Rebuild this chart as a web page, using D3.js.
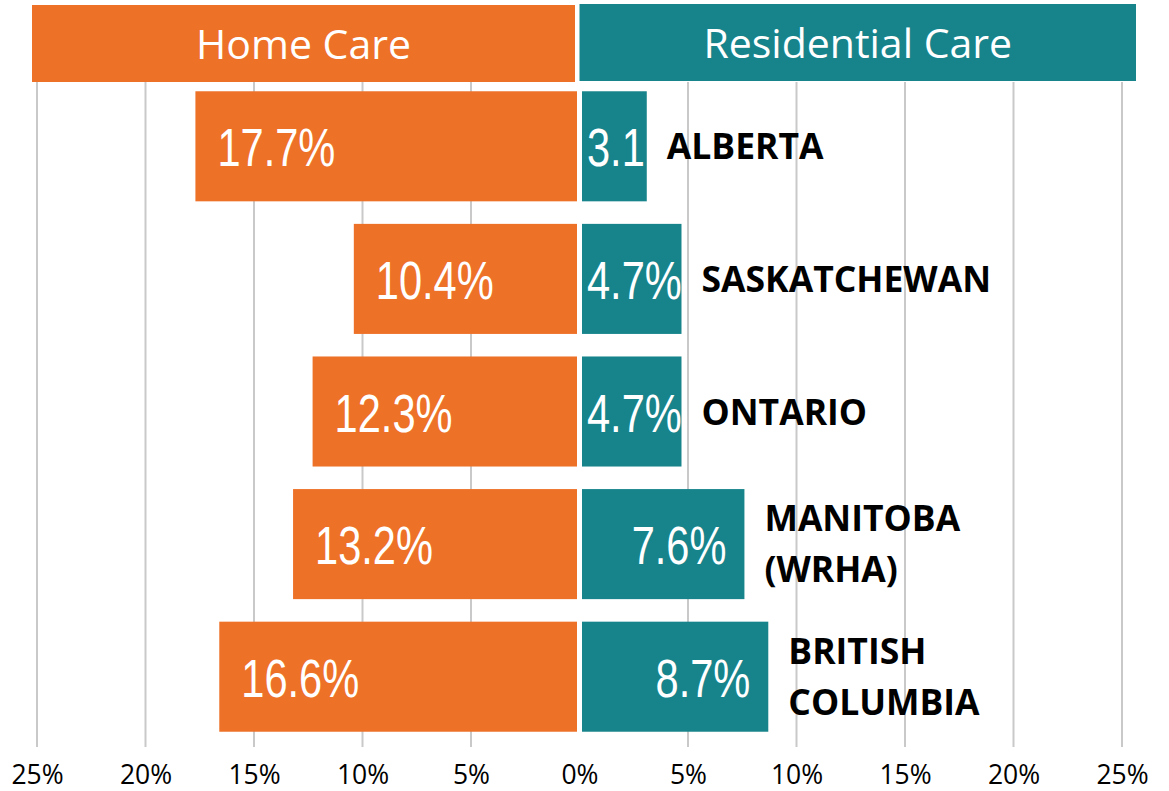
<!DOCTYPE html>
<html>
<head>
<meta charset="utf-8">
<script src="https://cdn.jsdelivr.net/npm/d3@7"></script>
<style>
  body { margin: 0; background: #fff; }
  svg { display: block; }
</style>
</head>
<body>
<svg id="chart" width="1169" height="791"></svg>
<script>
// Chart data
const provinces = ["ALBERTA", "SASKATCHEWAN", "ONTARIO", "MANITOBA (WRHA)", "BRITISH COLUMBIA"];
const provinceLines = [["ALBERTA"], ["SASKATCHEWAN"], ["ONTARIO"], ["MANITOBA", "(WRHA)"], ["BRITISH", "COLUMBIA"]];
const homeCare = [17.7, 10.4, 12.3, 13.2, 16.6];
const residentialCare = [3.1, 4.7, 4.7, 7.6, 8.7];
const tickValues = [-25, -20, -15, -10, -5, 0, 5, 10, 15, 20, 25];
const headers = ["Home Care", "Residential Care"];

const orange = "#EE7128";
const teal = "#17848C";

const svg = d3.select("#chart");

// Scales
const x = d3.scaleLinear().domain([-25, 25]).range([37, 1122]);
const y = d3.scaleBand()
    .domain(provinces)
    .range([80, 743])
    .paddingInner(0.17)
    .paddingOuter(0.085);
const x0 = x(0);
const gap = 2.5;

// Gridlines (no line at zero)
svg.append("g")
    .selectAll("line")
    .data(tickValues.filter(d => d !== 0))
    .enter().append("line")
    .attr("x1", d => x(d))
    .attr("x2", d => x(d))
    .attr("y1", 82)
    .attr("y2", 747)
    .attr("stroke", "#c9c9c9")
    .attr("stroke-width", 2);

// Header bands
const headerG = svg.append("g");
headerG.append("rect")
    .attr("x", x(-25) - 5).attr("y", 5)
    .attr("width", x0 - 4.5 - (x(-25) - 5)).attr("height", 77)
    .attr("fill", orange);
headerG.append("rect")
    .attr("x", x0).attr("y", 4)
    .attr("width", x(25) + 14 - x0).attr("height", 77)
    .attr("fill", teal);
headerG.append("text")
    .attr("x", (x(-25) - 5 + x0 - 4.5) / 2).attr("y", 59)
    .attr("text-anchor", "middle")
    .attr("font-family", "'Open Sans', sans-serif")
    .attr("font-size", "41px")
    .attr("fill", "#fff")
    .text(headers[0]);
headerG.append("text")
    .attr("x", (x0 + x(25) + 14) / 2).attr("y", 58)
    .attr("text-anchor", "middle")
    .attr("font-family", "'Open Sans', sans-serif")
    .attr("font-size", "41px")
    .attr("fill", "#fff")
    .text(headers[1]);

// Bars
const rows = provinces.map((p, i) => ({ p, lines: provinceLines[i], home: homeCare[i], res: residentialCare[i] }));

svg.append("g").selectAll("rect")
    .data(rows)
    .enter().append("rect")
    .attr("x", d => x(-d.home))
    .attr("y", d => y(d.p))
    .attr("width", d => x0 - gap - x(-d.home))
    .attr("height", y.bandwidth())
    .attr("fill", orange);

svg.append("g").selectAll("rect")
    .data(rows)
    .enter().append("rect")
    .attr("x", x0 + gap)
    .attr("y", d => y(d.p))
    .attr("width", d => x(d.res) - x0 - gap)
    .attr("height", y.bandwidth())
    .attr("fill", teal);

// Clip paths so residential labels stay inside their bars
const defs = svg.append("defs");
rows.forEach((d, i) => {
    defs.append("clipPath").attr("id", "clip" + i)
        .append("rect")
        .attr("x", x0 + gap)
        .attr("y", y(d.p))
        .attr("width", x(d.res) - x0 - gap)
        .attr("height", y.bandwidth());
});

const squeeze = 0.77;
const valueFont = "'Liberation Sans', Arial, sans-serif";

// Home care value labels (left aligned inside the bar)
svg.append("g").selectAll("text")
    .data(rows)
    .enter().append("text")
    .attr("transform", d => `translate(${x(-d.home) + 22}, ${y(d.p) + y.bandwidth() / 2 + 20}) scale(${squeeze},1)`)
    .attr("font-family", valueFont)
    .attr("font-size", "54px")
    .attr("fill", "#fff")
    .text(d => d.home.toFixed(1) + "%");

// Residential care value labels: right aligned when they fit,
// otherwise left aligned and cut down to what fits in the bar
rows.forEach((d, i) => {
    const g = svg.append("g").attr("clip-path", `url(#clip${i})`);
    let label = d.res.toFixed(1) + "%";
    const t = g.append("text")
        .attr("font-family", valueFont)
        .attr("font-size", "54px")
        .attr("fill", "#fff")
        .text(label);
    const barW = x(d.res) - x0 - gap;
    const cy = y(d.p) + y.bandwidth() / 2 + 20;
    let w = t.node().getComputedTextLength() * squeeze;
    if (w + 23 <= barW) {
        t.attr("text-anchor", "end")
            .attr("transform", `translate(${x(d.res) - 18}, ${cy}) scale(${squeeze},1)`);
    } else {
        while (w > barW - 3 && label.length > 1) {
            label = label.slice(0, -1);
            t.text(label);
            w = t.node().getComputedTextLength() * squeeze;
        }
        t.attr("transform", `translate(${x0 + gap + 5}, ${cy}) scale(${squeeze},1)`);
    }
});

// Province labels
rows.forEach(d => {
    const cy = y(d.p) + y.bandwidth() / 2;
    const lx = x(d.res) + 20;
    const t = svg.append("text")
        .attr("x", lx)
        .attr("font-family", "'Open Sans', sans-serif")
        .attr("font-weight", "bold")
        .attr("font-size", "35.5px")
        .attr("fill", "#000");
    if (d.lines.length === 1) {
        t.attr("y", cy + 13).text(d.lines[0]);
    } else {
        d.lines.forEach((line, k) => {
            t.append("tspan")
                .attr("x", lx)
                .attr("y", cy - 13 + k * 51)
                .text(line);
        });
    }
});

// X axis labels
const axis = d3.axisBottom(x)
    .tickValues(tickValues)
    .tickFormat(d => Math.abs(d) + "%")
    .tickSize(0);

svg.append("g")
    .call(axis)
    .call(g => g.select(".domain").remove())
    .selectAll("text")
    .attr("y", 784)
    .attr("dy", 0)
    .attr("font-family", "'Open Sans', sans-serif")
    .attr("font-size", "26.5px")
    .attr("fill", "#000");
</script>
</body>
</html>
